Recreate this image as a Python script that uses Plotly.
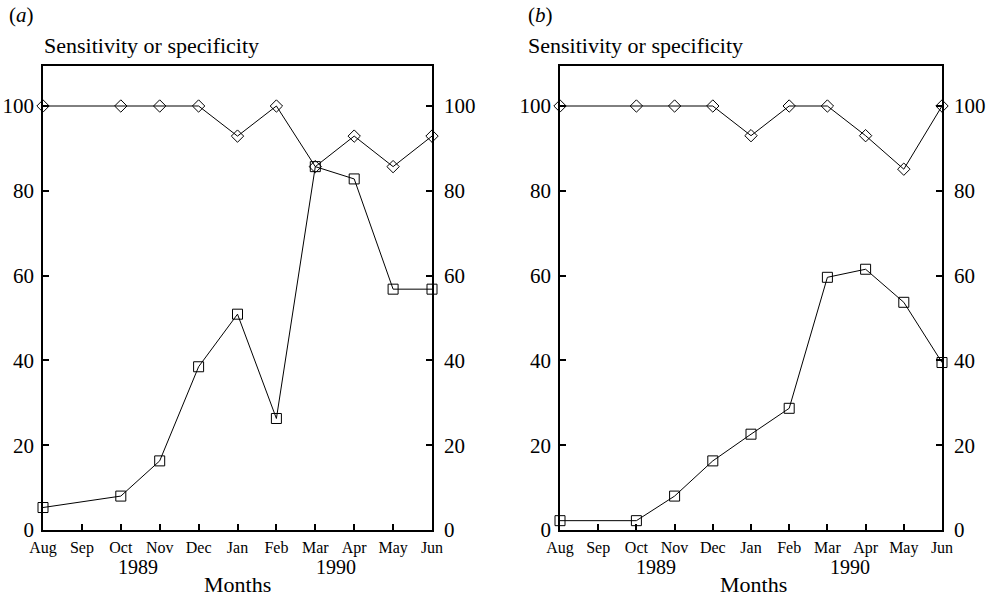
import plotly.graph_objects as go

months = ["Aug", "Sep", "Oct", "Nov", "Dec", "Jan", "Feb", "Mar", "Apr", "May", "Jun"]
data_months = ["Aug", "Oct", "Nov", "Dec", "Jan", "Feb", "Mar", "Apr", "May", "Jun"]
spec_a = [100, 100, 100, 100, 92.9, 100, 85.7, 92.9, 85.7, 92.9]
sens_a = [5.3, 8.0, 16.3, 38.5, 50.9, 26.3, 85.7, 82.8, 56.8, 56.8]
spec_b = [100, 100, 100, 100, 93.0, 100, 100, 93.0, 85.1, 100]
sens_b = [2.2, 2.2, 8.0, 16.3, 22.6, 28.7, 59.6, 61.5, 53.7, 39.5]
yticks = [0, 20, 40, 60, 80, 100]
years = ["1989", "1990"]
panel_labels = ["(<i>a</i>)", "(<i>b</i>)"]
ytitle = "Sensitivity or specificity"
xtitle = "Months"

W, H = 993, 598
FONT = "Liberation Serif"


def px(x):
    return x / W


def py(y):
    return 1 - y / H


xpos = [months.index(m) for m in data_months]

fig = go.Figure()

panels = [
    dict(spec=spec_a, sens=sens_a, xa="x", ya="y", ya2="y2"),
    dict(spec=spec_b, sens=sens_b, xa="x2", ya="y3", ya2="y4"),
]

line_style = dict(color="black", width=1)
for p in panels:
    fig.add_trace(go.Scatter(
        x=xpos, y=p["spec"], xaxis=p["xa"], yaxis=p["ya2"], mode="lines+markers",
        line=line_style, cliponaxis=False,
        marker=dict(symbol="diamond-open", size=9.5, color="black", line=dict(width=1, color="black")),
        showlegend=False, hoverinfo="skip"))
    fig.add_trace(go.Scatter(
        x=xpos, y=p["sens"], xaxis=p["xa"], yaxis=p["ya"], mode="lines+markers",
        line=line_style, cliponaxis=False,
        marker=dict(symbol="square-open", size=10, color="black", line=dict(width=1, color="black")),
        showlegend=False, hoverinfo="skip"))

top, bottom = 66, 530
ymax = (bottom - top) / 4.24
ydom = [py(bottom), py(top)]

common_x = dict(range=[0, 10], tickmode="array", tickvals=list(range(11)), ticktext=months,
                ticks="inside", ticklen=6, tickwidth=1.5, tickcolor="black",
                showline=True, linecolor="black", linewidth=1.8, mirror=True,
                showgrid=False, zeroline=False, fixedrange=True, automargin=False,
                tickfont=dict(family=FONT, size=16, color="black"))
common_y = dict(range=[0, ymax], tickmode="array", tickvals=yticks,
                ticks="inside", ticklen=6, tickwidth=1.5, tickcolor="black",
                showline=True, linecolor="black", linewidth=1.8,
                showgrid=False, zeroline=False, fixedrange=True, automargin=False,
                tickfont=dict(family=FONT, size=21, color="black"))

layout = dict(
    width=W, height=H, margin=dict(l=0, r=0, t=0, b=0, autoexpand=False),
    paper_bgcolor="white", plot_bgcolor="white",
    xaxis=dict(common_x, domain=[px(43), px(432)], anchor="y", ticklabelstandoff=2),
    xaxis2=dict(common_x, domain=[px(560), px(942)], anchor="y3", ticklabelstandoff=2),
    yaxis=dict(common_y, domain=ydom, anchor="x", side="left", ticklabelstandoff=3),
    yaxis2=dict(common_y, overlaying="y", anchor="x", side="right", ticklabelstandoff=6),
    yaxis3=dict(common_y, domain=ydom, anchor="x2", side="left", ticklabelstandoff=3),
    yaxis4=dict(common_y, overlaying="y3", anchor="x2", side="right", ticklabelstandoff=6),
)
fig.update_layout(**layout)

ann = []


def add_text(text, x, y, size, xanchor="center"):
    ann.append(dict(text=text, x=px(x), y=py(y), xref="paper", yref="paper",
                    xanchor=xanchor, yanchor="middle", showarrow=False,
                    font=dict(family=FONT, size=size, color="black")))


# panel a
add_text(panel_labels[0], 7, 15, 21, "left")
add_text(ytitle, 42, 45, 22, "left")
add_text(years[0], 138, 567, 20)
add_text(years[1], 336, 567, 20)
add_text(xtitle, 237, 584, 22)
# panel b
add_text(panel_labels[1], 526, 15, 21, "left")
add_text(ytitle, 526, 45, 22, "left")
add_text(years[0], 656, 567, 20)
add_text(years[1], 850, 567, 20)
add_text(xtitle, 753, 584, 22)

fig.update_layout(annotations=ann)
fig.write_html("out.html", config={"displayModeBar": False},
               post_script="document.body.style.margin='0';document.body.style.overflow='hidden';")
